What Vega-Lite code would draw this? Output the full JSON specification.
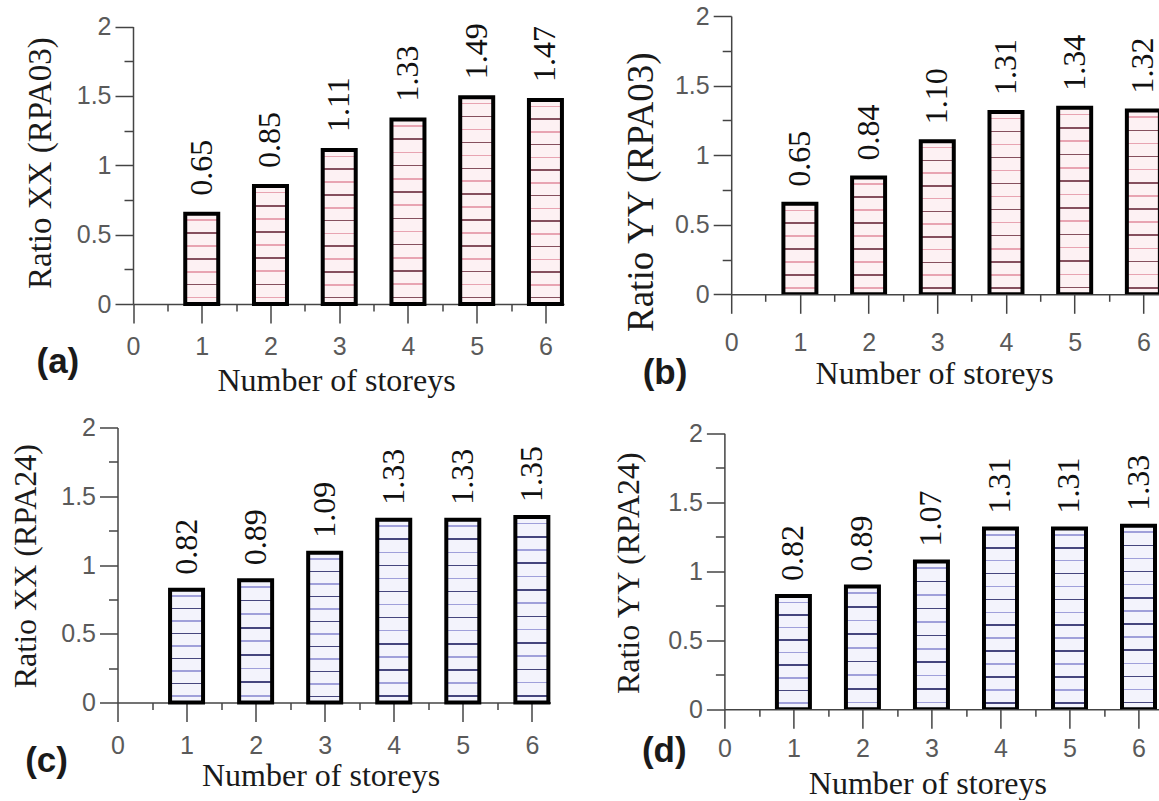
{
"$schema": "https://vega.github.io/schema/vega-lite/v6.json",
"background": "white",
"padding": {"left": 8.5, "top": 4, "right": 0, "bottom": 0},
"config": {
  "view": {"stroke": null},
  "axis": {"grid": false, "labelFont": "Liberation Sans", "labelFontSize": 25, "labelColor": "#5a5a5a", "labelFlush": false, "labelOverlap": false, "labelLimit": 2000, "labelBound": false, "domainColor": "#444444", "domainWidth": 1.5, "tickColor": "#444444", "tickWidth": 1.5, "titleFont": "Liberation Serif", "titleFontWeight": "normal", "titleColor": "#1a1a1a", "titleLimit": 2000},
  "title": {"font": "Liberation Sans", "fontSize": 35, "fontWeight": "bold", "color": "#1a1a1a", "orient": "bottom", "anchor": "start", "frame": "bounds", "offset": 0},
  "text": {"font": "Liberation Serif", "fontSize": 32, "color": "#111111"}
},
"data": {"values": [
  {"panel": "a", "storeys": 1, "ratio": 0.65},
  {"panel": "a", "storeys": 2, "ratio": 0.85},
  {"panel": "a", "storeys": 3, "ratio": 1.11},
  {"panel": "a", "storeys": 4, "ratio": 1.33},
  {"panel": "a", "storeys": 5, "ratio": 1.49},
  {"panel": "a", "storeys": 6, "ratio": 1.47},
  {"panel": "b", "storeys": 1, "ratio": 0.65},
  {"panel": "b", "storeys": 2, "ratio": 0.84},
  {"panel": "b", "storeys": 3, "ratio": 1.10},
  {"panel": "b", "storeys": 4, "ratio": 1.31},
  {"panel": "b", "storeys": 5, "ratio": 1.34},
  {"panel": "b", "storeys": 6, "ratio": 1.32},
  {"panel": "c", "storeys": 1, "ratio": 0.82},
  {"panel": "c", "storeys": 2, "ratio": 0.89},
  {"panel": "c", "storeys": 3, "ratio": 1.09},
  {"panel": "c", "storeys": 4, "ratio": 1.33},
  {"panel": "c", "storeys": 5, "ratio": 1.33},
  {"panel": "c", "storeys": 6, "ratio": 1.35},
  {"panel": "d", "storeys": 1, "ratio": 0.82},
  {"panel": "d", "storeys": 2, "ratio": 0.89},
  {"panel": "d", "storeys": 3, "ratio": 1.07},
  {"panel": "d", "storeys": 4, "ratio": 1.31},
  {"panel": "d", "storeys": 5, "ratio": 1.31},
  {"panel": "d", "storeys": 6, "ratio": 1.33}
]},
"spacing": 19.5,
"vconcat": [
{"spacing": 57.7, "hconcat": [
{
 "width": 446.5, "height": 288,
 "transform": [{"filter": "datum.panel === 'a'"}],
 "title": {"text": "(a)", "dx": 12.2, "dy": -54.8},
 "encoding": {
  "x": {"field": "storeys", "type": "quantitative", "scale": {"domain": [0, 6.27], "range": [15.5, 446.5], "nice": false, "padding": 0},
        "axis": {"title": "Number of storeys", "values": [0,0.5,1,1.5,2,2.5,3,3.5,4,4.5,5,5.5,6], "labelExpr": "datum.value % 1 === 0 ? format(datum.value, 'd') : ''", "tickSize": {"condition": {"test": "datum.value % 1 === 0", "value": 19}, "value": 7}, "labelPadding": 11.9, "titleX": 218.5, "titleY": 86, "titleAlign": "center", "titleBaseline": "alphabetic", "titleAngle": 0, "titleFontSize": 32}},
  "y": {"field": "ratio", "type": "quantitative", "stack": null, "scale": {"domain": [0, 2], "range": [288, 10.5], "nice": false},
        "axis": {"title": "Ratio XX (RPA03)", "offset": -15.5, "values": [0,0.25,0.5,0.75,1,1.25,1.5,1.75,2], "labelExpr": "datum.value % 0.5 === 0 ? format(datum.value, '~g') : ''", "tickSize": {"condition": {"test": "datum.value % 0.5 === 0", "value": 18}, "value": 9}, "labelPadding": 4, "titleX": -82.7, "titleY": 146.6, "titleAngle": 270, "titleAlign": "center", "titleBaseline": "alphabetic", "titleFontSize": 33}}
 },
 "layer": [
  {"mark": {"type": "bar", "orient": "vertical", "size": 33, "stroke": "#000000", "strokeWidth": 4},
   "encoding": {"fill": {"condition": [
    {"test": "datum.ratio < 0.75", "value": {"gradient": "linear", "x1": 0, "y1": 0, "x2": 0, "y2": 1, "stops": [{"offset":0,"color":"#fdf1f3"},{"offset":0.0628,"color":"#fdf1f3"},{"offset":0.0628,"color":"#e8a4b2"},{"offset":0.08,"color":"#e8a4b2"},{"offset":0.08,"color":"#fdf1f3"},{"offset":0.2057,"color":"#fdf1f3"},{"offset":0.2057,"color":"#86505e"},{"offset":0.2229,"color":"#86505e"},{"offset":0.2229,"color":"#fdf1f3"},{"offset":0.3485,"color":"#fdf1f3"},{"offset":0.3485,"color":"#e8a4b2"},{"offset":0.3657,"color":"#e8a4b2"},{"offset":0.3657,"color":"#fdf1f3"},{"offset":0.4914,"color":"#fdf1f3"},{"offset":0.4914,"color":"#86505e"},{"offset":0.5086,"color":"#86505e"},{"offset":0.5086,"color":"#fdf1f3"},{"offset":0.6343,"color":"#fdf1f3"},{"offset":0.6343,"color":"#e8a4b2"},{"offset":0.6515,"color":"#e8a4b2"},{"offset":0.6515,"color":"#fdf1f3"},{"offset":0.7771,"color":"#fdf1f3"},{"offset":0.7771,"color":"#86505e"},{"offset":0.7943,"color":"#86505e"},{"offset":0.7943,"color":"#fdf1f3"},{"offset":0.92,"color":"#fdf1f3"},{"offset":0.92,"color":"#e8a4b2"},{"offset":0.9372,"color":"#e8a4b2"},{"offset":0.9372,"color":"#fdf1f3"},{"offset":1,"color":"#fdf1f3"}]}},
    {"test": "datum.ratio < 1", "value": {"gradient": "linear", "x1": 0, "y1": 0, "x2": 0, "y2": 1, "stops": [{"offset":0,"color":"#fdf1f3"},{"offset":0.0489,"color":"#fdf1f3"},{"offset":0.0489,"color":"#e8a4b2"},{"offset":0.0623,"color":"#e8a4b2"},{"offset":0.0623,"color":"#fdf1f3"},{"offset":0.16,"color":"#fdf1f3"},{"offset":0.16,"color":"#86505e"},{"offset":0.1734,"color":"#86505e"},{"offset":0.1734,"color":"#fdf1f3"},{"offset":0.2711,"color":"#fdf1f3"},{"offset":0.2711,"color":"#e8a4b2"},{"offset":0.2845,"color":"#e8a4b2"},{"offset":0.2845,"color":"#fdf1f3"},{"offset":0.3822,"color":"#fdf1f3"},{"offset":0.3822,"color":"#86505e"},{"offset":0.3956,"color":"#86505e"},{"offset":0.3956,"color":"#fdf1f3"},{"offset":0.4933,"color":"#fdf1f3"},{"offset":0.4933,"color":"#e8a4b2"},{"offset":0.5067,"color":"#e8a4b2"},{"offset":0.5067,"color":"#fdf1f3"},{"offset":0.6044,"color":"#fdf1f3"},{"offset":0.6044,"color":"#86505e"},{"offset":0.6178,"color":"#86505e"},{"offset":0.6178,"color":"#fdf1f3"},{"offset":0.7155,"color":"#fdf1f3"},{"offset":0.7155,"color":"#e8a4b2"},{"offset":0.7289,"color":"#e8a4b2"},{"offset":0.7289,"color":"#fdf1f3"},{"offset":0.8266,"color":"#fdf1f3"},{"offset":0.8266,"color":"#86505e"},{"offset":0.84,"color":"#86505e"},{"offset":0.84,"color":"#fdf1f3"},{"offset":0.9377,"color":"#fdf1f3"},{"offset":0.9377,"color":"#e8a4b2"},{"offset":0.9511,"color":"#e8a4b2"},{"offset":0.9511,"color":"#fdf1f3"},{"offset":1,"color":"#fdf1f3"}]}},
    {"test": "datum.ratio < 1.2", "value": {"gradient": "linear", "x1": 0, "y1": 0, "x2": 0, "y2": 1, "stops": [{"offset":0,"color":"#fdf1f3"},{"offset":0.0367,"color":"#fdf1f3"},{"offset":0.0367,"color":"#e8a4b2"},{"offset":0.0467,"color":"#e8a4b2"},{"offset":0.0467,"color":"#fdf1f3"},{"offset":0.12,"color":"#fdf1f3"},{"offset":0.12,"color":"#86505e"},{"offset":0.13,"color":"#86505e"},{"offset":0.13,"color":"#fdf1f3"},{"offset":0.2033,"color":"#fdf1f3"},{"offset":0.2033,"color":"#e8a4b2"},{"offset":0.2133,"color":"#e8a4b2"},{"offset":0.2133,"color":"#fdf1f3"},{"offset":0.2867,"color":"#fdf1f3"},{"offset":0.2867,"color":"#86505e"},{"offset":0.2967,"color":"#86505e"},{"offset":0.2967,"color":"#fdf1f3"},{"offset":0.37,"color":"#fdf1f3"},{"offset":0.37,"color":"#e8a4b2"},{"offset":0.38,"color":"#e8a4b2"},{"offset":0.38,"color":"#fdf1f3"},{"offset":0.4533,"color":"#fdf1f3"},{"offset":0.4533,"color":"#86505e"},{"offset":0.4633,"color":"#86505e"},{"offset":0.4633,"color":"#fdf1f3"},{"offset":0.5367,"color":"#fdf1f3"},{"offset":0.5367,"color":"#e8a4b2"},{"offset":0.5467,"color":"#e8a4b2"},{"offset":0.5467,"color":"#fdf1f3"},{"offset":0.62,"color":"#fdf1f3"},{"offset":0.62,"color":"#86505e"},{"offset":0.63,"color":"#86505e"},{"offset":0.63,"color":"#fdf1f3"},{"offset":0.7033,"color":"#fdf1f3"},{"offset":0.7033,"color":"#e8a4b2"},{"offset":0.7133,"color":"#e8a4b2"},{"offset":0.7133,"color":"#fdf1f3"},{"offset":0.7867,"color":"#fdf1f3"},{"offset":0.7867,"color":"#86505e"},{"offset":0.7967,"color":"#86505e"},{"offset":0.7967,"color":"#fdf1f3"},{"offset":0.87,"color":"#fdf1f3"},{"offset":0.87,"color":"#e8a4b2"},{"offset":0.88,"color":"#e8a4b2"},{"offset":0.88,"color":"#fdf1f3"},{"offset":0.9533,"color":"#fdf1f3"},{"offset":0.9533,"color":"#86505e"},{"offset":0.9633,"color":"#86505e"},{"offset":0.9633,"color":"#fdf1f3"},{"offset":1,"color":"#fdf1f3"}]}},
    {"test": "datum.ratio < 1.4", "value": {"gradient": "linear", "x1": 0, "y1": 0, "x2": 0, "y2": 1, "stops": [{"offset":0,"color":"#fdf1f3"},{"offset":0.0314,"color":"#fdf1f3"},{"offset":0.0314,"color":"#e8a4b2"},{"offset":0.04,"color":"#e8a4b2"},{"offset":0.04,"color":"#fdf1f3"},{"offset":0.1028,"color":"#fdf1f3"},{"offset":0.1028,"color":"#86505e"},{"offset":0.1114,"color":"#86505e"},{"offset":0.1114,"color":"#fdf1f3"},{"offset":0.1743,"color":"#fdf1f3"},{"offset":0.1743,"color":"#e8a4b2"},{"offset":0.1829,"color":"#e8a4b2"},{"offset":0.1829,"color":"#fdf1f3"},{"offset":0.2457,"color":"#fdf1f3"},{"offset":0.2457,"color":"#86505e"},{"offset":0.2543,"color":"#86505e"},{"offset":0.2543,"color":"#fdf1f3"},{"offset":0.3171,"color":"#fdf1f3"},{"offset":0.3171,"color":"#e8a4b2"},{"offset":0.3257,"color":"#e8a4b2"},{"offset":0.3257,"color":"#fdf1f3"},{"offset":0.3886,"color":"#fdf1f3"},{"offset":0.3886,"color":"#86505e"},{"offset":0.3972,"color":"#86505e"},{"offset":0.3972,"color":"#fdf1f3"},{"offset":0.46,"color":"#fdf1f3"},{"offset":0.46,"color":"#e8a4b2"},{"offset":0.4686,"color":"#e8a4b2"},{"offset":0.4686,"color":"#fdf1f3"},{"offset":0.5314,"color":"#fdf1f3"},{"offset":0.5314,"color":"#86505e"},{"offset":0.54,"color":"#86505e"},{"offset":0.54,"color":"#fdf1f3"},{"offset":0.6028,"color":"#fdf1f3"},{"offset":0.6028,"color":"#e8a4b2"},{"offset":0.6114,"color":"#e8a4b2"},{"offset":0.6114,"color":"#fdf1f3"},{"offset":0.6743,"color":"#fdf1f3"},{"offset":0.6743,"color":"#86505e"},{"offset":0.6829,"color":"#86505e"},{"offset":0.6829,"color":"#fdf1f3"},{"offset":0.7457,"color":"#fdf1f3"},{"offset":0.7457,"color":"#e8a4b2"},{"offset":0.7543,"color":"#e8a4b2"},{"offset":0.7543,"color":"#fdf1f3"},{"offset":0.8171,"color":"#fdf1f3"},{"offset":0.8171,"color":"#86505e"},{"offset":0.8257,"color":"#86505e"},{"offset":0.8257,"color":"#fdf1f3"},{"offset":0.8886,"color":"#fdf1f3"},{"offset":0.8886,"color":"#e8a4b2"},{"offset":0.8972,"color":"#e8a4b2"},{"offset":0.8972,"color":"#fdf1f3"},{"offset":0.96,"color":"#fdf1f3"},{"offset":0.96,"color":"#86505e"},{"offset":0.9686,"color":"#86505e"},{"offset":0.9686,"color":"#fdf1f3"},{"offset":1,"color":"#fdf1f3"}]}}
   ],
   "value": {"gradient": "linear", "x1": 0, "y1": 0, "x2": 0, "y2": 1, "stops": [{"offset":0,"color":"#fdf1f3"},{"offset":0.0275,"color":"#fdf1f3"},{"offset":0.0275,"color":"#e8a4b2"},{"offset":0.035,"color":"#e8a4b2"},{"offset":0.035,"color":"#fdf1f3"},{"offset":0.09,"color":"#fdf1f3"},{"offset":0.09,"color":"#86505e"},{"offset":0.0975,"color":"#86505e"},{"offset":0.0975,"color":"#fdf1f3"},{"offset":0.1525,"color":"#fdf1f3"},{"offset":0.1525,"color":"#e8a4b2"},{"offset":0.16,"color":"#e8a4b2"},{"offset":0.16,"color":"#fdf1f3"},{"offset":0.215,"color":"#fdf1f3"},{"offset":0.215,"color":"#86505e"},{"offset":0.2225,"color":"#86505e"},{"offset":0.2225,"color":"#fdf1f3"},{"offset":0.2775,"color":"#fdf1f3"},{"offset":0.2775,"color":"#e8a4b2"},{"offset":0.285,"color":"#e8a4b2"},{"offset":0.285,"color":"#fdf1f3"},{"offset":0.34,"color":"#fdf1f3"},{"offset":0.34,"color":"#86505e"},{"offset":0.3475,"color":"#86505e"},{"offset":0.3475,"color":"#fdf1f3"},{"offset":0.4025,"color":"#fdf1f3"},{"offset":0.4025,"color":"#e8a4b2"},{"offset":0.41,"color":"#e8a4b2"},{"offset":0.41,"color":"#fdf1f3"},{"offset":0.465,"color":"#fdf1f3"},{"offset":0.465,"color":"#86505e"},{"offset":0.4725,"color":"#86505e"},{"offset":0.4725,"color":"#fdf1f3"},{"offset":0.5275,"color":"#fdf1f3"},{"offset":0.5275,"color":"#e8a4b2"},{"offset":0.535,"color":"#e8a4b2"},{"offset":0.535,"color":"#fdf1f3"},{"offset":0.59,"color":"#fdf1f3"},{"offset":0.59,"color":"#86505e"},{"offset":0.5975,"color":"#86505e"},{"offset":0.5975,"color":"#fdf1f3"},{"offset":0.6525,"color":"#fdf1f3"},{"offset":0.6525,"color":"#e8a4b2"},{"offset":0.66,"color":"#e8a4b2"},{"offset":0.66,"color":"#fdf1f3"},{"offset":0.715,"color":"#fdf1f3"},{"offset":0.715,"color":"#86505e"},{"offset":0.7225,"color":"#86505e"},{"offset":0.7225,"color":"#fdf1f3"},{"offset":0.7775,"color":"#fdf1f3"},{"offset":0.7775,"color":"#e8a4b2"},{"offset":0.785,"color":"#e8a4b2"},{"offset":0.785,"color":"#fdf1f3"},{"offset":0.84,"color":"#fdf1f3"},{"offset":0.84,"color":"#86505e"},{"offset":0.8475,"color":"#86505e"},{"offset":0.8475,"color":"#fdf1f3"},{"offset":0.9025,"color":"#fdf1f3"},{"offset":0.9025,"color":"#e8a4b2"},{"offset":0.91,"color":"#e8a4b2"},{"offset":0.91,"color":"#fdf1f3"},{"offset":0.965,"color":"#fdf1f3"},{"offset":0.965,"color":"#86505e"},{"offset":0.9725,"color":"#86505e"},{"offset":0.9725,"color":"#fdf1f3"},{"offset":1,"color":"#fdf1f3"}]}}}},
  {"mark": {"type": "text", "angle": 270, "align": "left", "baseline": "middle", "dx": 18},
   "encoding": {"text": {"field": "ratio", "type": "quantitative", "format": ".2f"}}}
 ]
},
{
 "width": 429, "height": 278.3,
 "transform": [{"filter": "datum.panel === 'b'"}],
 "title": {"text": "(b)", "dx": 19.8, "dy": -37.5},
 "encoding": {
  "x": {"field": "storeys", "type": "quantitative", "scale": {"domain": [0, 6.245], "nice": false, "padding": 0},
        "axis": {"title": "Number of storeys", "values": [0,0.5,1,1.5,2,2.5,3,3.5,4,4.5,5,5.5,6], "labelExpr": "datum.value % 1 === 0 ? format(datum.value, 'd') : ''", "tickSize": {"condition": {"test": "datum.value % 1 === 0", "value": 19}, "value": 7}, "labelPadding": 17.6, "titleX": 203, "titleY": 88.7, "titleAlign": "center", "titleBaseline": "alphabetic", "titleAngle": 0, "titleFontSize": 32}},
  "y": {"field": "ratio", "type": "quantitative", "stack": null, "scale": {"domain": [0, 2], "nice": false},
        "axis": {"title": "Ratio YY (RPA03)", "values": [0,0.25,0.5,0.75,1,1.25,1.5,1.75,2], "labelExpr": "datum.value % 0.5 === 0 ? format(datum.value, '~g') : ''", "tickSize": {"condition": {"test": "datum.value % 0.5 === 0", "value": 18}, "value": 9}, "labelPadding": 4, "titleX": -78.3, "titleY": 175.7, "titleAngle": 270, "titleAlign": "center", "titleBaseline": "alphabetic", "titleFontSize": 37}}
 },
 "layer": [
  {"mark": {"type": "bar", "orient": "vertical", "size": 33, "stroke": "#000000", "strokeWidth": 4, "clip": true},
   "encoding": {"fill": {"condition": [
    {"test": "datum.ratio < 0.75", "value": {"gradient": "linear", "x1": 0, "y1": 0, "x2": 0, "y2": 1, "stops": [{"offset":0,"color":"#fdf1f3"},{"offset":0.0628,"color":"#fdf1f3"},{"offset":0.0628,"color":"#e8a4b2"},{"offset":0.08,"color":"#e8a4b2"},{"offset":0.08,"color":"#fdf1f3"},{"offset":0.2057,"color":"#fdf1f3"},{"offset":0.2057,"color":"#86505e"},{"offset":0.2229,"color":"#86505e"},{"offset":0.2229,"color":"#fdf1f3"},{"offset":0.3485,"color":"#fdf1f3"},{"offset":0.3485,"color":"#e8a4b2"},{"offset":0.3657,"color":"#e8a4b2"},{"offset":0.3657,"color":"#fdf1f3"},{"offset":0.4914,"color":"#fdf1f3"},{"offset":0.4914,"color":"#86505e"},{"offset":0.5086,"color":"#86505e"},{"offset":0.5086,"color":"#fdf1f3"},{"offset":0.6343,"color":"#fdf1f3"},{"offset":0.6343,"color":"#e8a4b2"},{"offset":0.6515,"color":"#e8a4b2"},{"offset":0.6515,"color":"#fdf1f3"},{"offset":0.7771,"color":"#fdf1f3"},{"offset":0.7771,"color":"#86505e"},{"offset":0.7943,"color":"#86505e"},{"offset":0.7943,"color":"#fdf1f3"},{"offset":0.92,"color":"#fdf1f3"},{"offset":0.92,"color":"#e8a4b2"},{"offset":0.9372,"color":"#e8a4b2"},{"offset":0.9372,"color":"#fdf1f3"},{"offset":1,"color":"#fdf1f3"}]}},
    {"test": "datum.ratio < 1", "value": {"gradient": "linear", "x1": 0, "y1": 0, "x2": 0, "y2": 1, "stops": [{"offset":0,"color":"#fdf1f3"},{"offset":0.0489,"color":"#fdf1f3"},{"offset":0.0489,"color":"#e8a4b2"},{"offset":0.0623,"color":"#e8a4b2"},{"offset":0.0623,"color":"#fdf1f3"},{"offset":0.16,"color":"#fdf1f3"},{"offset":0.16,"color":"#86505e"},{"offset":0.1734,"color":"#86505e"},{"offset":0.1734,"color":"#fdf1f3"},{"offset":0.2711,"color":"#fdf1f3"},{"offset":0.2711,"color":"#e8a4b2"},{"offset":0.2845,"color":"#e8a4b2"},{"offset":0.2845,"color":"#fdf1f3"},{"offset":0.3822,"color":"#fdf1f3"},{"offset":0.3822,"color":"#86505e"},{"offset":0.3956,"color":"#86505e"},{"offset":0.3956,"color":"#fdf1f3"},{"offset":0.4933,"color":"#fdf1f3"},{"offset":0.4933,"color":"#e8a4b2"},{"offset":0.5067,"color":"#e8a4b2"},{"offset":0.5067,"color":"#fdf1f3"},{"offset":0.6044,"color":"#fdf1f3"},{"offset":0.6044,"color":"#86505e"},{"offset":0.6178,"color":"#86505e"},{"offset":0.6178,"color":"#fdf1f3"},{"offset":0.7155,"color":"#fdf1f3"},{"offset":0.7155,"color":"#e8a4b2"},{"offset":0.7289,"color":"#e8a4b2"},{"offset":0.7289,"color":"#fdf1f3"},{"offset":0.8266,"color":"#fdf1f3"},{"offset":0.8266,"color":"#86505e"},{"offset":0.84,"color":"#86505e"},{"offset":0.84,"color":"#fdf1f3"},{"offset":0.9377,"color":"#fdf1f3"},{"offset":0.9377,"color":"#e8a4b2"},{"offset":0.9511,"color":"#e8a4b2"},{"offset":0.9511,"color":"#fdf1f3"},{"offset":1,"color":"#fdf1f3"}]}},
    {"test": "datum.ratio < 1.2", "value": {"gradient": "linear", "x1": 0, "y1": 0, "x2": 0, "y2": 1, "stops": [{"offset":0,"color":"#fdf1f3"},{"offset":0.0367,"color":"#fdf1f3"},{"offset":0.0367,"color":"#e8a4b2"},{"offset":0.0467,"color":"#e8a4b2"},{"offset":0.0467,"color":"#fdf1f3"},{"offset":0.12,"color":"#fdf1f3"},{"offset":0.12,"color":"#86505e"},{"offset":0.13,"color":"#86505e"},{"offset":0.13,"color":"#fdf1f3"},{"offset":0.2033,"color":"#fdf1f3"},{"offset":0.2033,"color":"#e8a4b2"},{"offset":0.2133,"color":"#e8a4b2"},{"offset":0.2133,"color":"#fdf1f3"},{"offset":0.2867,"color":"#fdf1f3"},{"offset":0.2867,"color":"#86505e"},{"offset":0.2967,"color":"#86505e"},{"offset":0.2967,"color":"#fdf1f3"},{"offset":0.37,"color":"#fdf1f3"},{"offset":0.37,"color":"#e8a4b2"},{"offset":0.38,"color":"#e8a4b2"},{"offset":0.38,"color":"#fdf1f3"},{"offset":0.4533,"color":"#fdf1f3"},{"offset":0.4533,"color":"#86505e"},{"offset":0.4633,"color":"#86505e"},{"offset":0.4633,"color":"#fdf1f3"},{"offset":0.5367,"color":"#fdf1f3"},{"offset":0.5367,"color":"#e8a4b2"},{"offset":0.5467,"color":"#e8a4b2"},{"offset":0.5467,"color":"#fdf1f3"},{"offset":0.62,"color":"#fdf1f3"},{"offset":0.62,"color":"#86505e"},{"offset":0.63,"color":"#86505e"},{"offset":0.63,"color":"#fdf1f3"},{"offset":0.7033,"color":"#fdf1f3"},{"offset":0.7033,"color":"#e8a4b2"},{"offset":0.7133,"color":"#e8a4b2"},{"offset":0.7133,"color":"#fdf1f3"},{"offset":0.7867,"color":"#fdf1f3"},{"offset":0.7867,"color":"#86505e"},{"offset":0.7967,"color":"#86505e"},{"offset":0.7967,"color":"#fdf1f3"},{"offset":0.87,"color":"#fdf1f3"},{"offset":0.87,"color":"#e8a4b2"},{"offset":0.88,"color":"#e8a4b2"},{"offset":0.88,"color":"#fdf1f3"},{"offset":0.9533,"color":"#fdf1f3"},{"offset":0.9533,"color":"#86505e"},{"offset":0.9633,"color":"#86505e"},{"offset":0.9633,"color":"#fdf1f3"},{"offset":1,"color":"#fdf1f3"}]}}
   ],
   "value": {"gradient": "linear", "x1": 0, "y1": 0, "x2": 0, "y2": 1, "stops": [{"offset":0,"color":"#fdf1f3"},{"offset":0.0314,"color":"#fdf1f3"},{"offset":0.0314,"color":"#e8a4b2"},{"offset":0.04,"color":"#e8a4b2"},{"offset":0.04,"color":"#fdf1f3"},{"offset":0.1028,"color":"#fdf1f3"},{"offset":0.1028,"color":"#86505e"},{"offset":0.1114,"color":"#86505e"},{"offset":0.1114,"color":"#fdf1f3"},{"offset":0.1743,"color":"#fdf1f3"},{"offset":0.1743,"color":"#e8a4b2"},{"offset":0.1829,"color":"#e8a4b2"},{"offset":0.1829,"color":"#fdf1f3"},{"offset":0.2457,"color":"#fdf1f3"},{"offset":0.2457,"color":"#86505e"},{"offset":0.2543,"color":"#86505e"},{"offset":0.2543,"color":"#fdf1f3"},{"offset":0.3171,"color":"#fdf1f3"},{"offset":0.3171,"color":"#e8a4b2"},{"offset":0.3257,"color":"#e8a4b2"},{"offset":0.3257,"color":"#fdf1f3"},{"offset":0.3886,"color":"#fdf1f3"},{"offset":0.3886,"color":"#86505e"},{"offset":0.3972,"color":"#86505e"},{"offset":0.3972,"color":"#fdf1f3"},{"offset":0.46,"color":"#fdf1f3"},{"offset":0.46,"color":"#e8a4b2"},{"offset":0.4686,"color":"#e8a4b2"},{"offset":0.4686,"color":"#fdf1f3"},{"offset":0.5314,"color":"#fdf1f3"},{"offset":0.5314,"color":"#86505e"},{"offset":0.54,"color":"#86505e"},{"offset":0.54,"color":"#fdf1f3"},{"offset":0.6028,"color":"#fdf1f3"},{"offset":0.6028,"color":"#e8a4b2"},{"offset":0.6114,"color":"#e8a4b2"},{"offset":0.6114,"color":"#fdf1f3"},{"offset":0.6743,"color":"#fdf1f3"},{"offset":0.6743,"color":"#86505e"},{"offset":0.6829,"color":"#86505e"},{"offset":0.6829,"color":"#fdf1f3"},{"offset":0.7457,"color":"#fdf1f3"},{"offset":0.7457,"color":"#e8a4b2"},{"offset":0.7543,"color":"#e8a4b2"},{"offset":0.7543,"color":"#fdf1f3"},{"offset":0.8171,"color":"#fdf1f3"},{"offset":0.8171,"color":"#86505e"},{"offset":0.8257,"color":"#86505e"},{"offset":0.8257,"color":"#fdf1f3"},{"offset":0.8886,"color":"#fdf1f3"},{"offset":0.8886,"color":"#e8a4b2"},{"offset":0.8972,"color":"#e8a4b2"},{"offset":0.8972,"color":"#fdf1f3"},{"offset":0.96,"color":"#fdf1f3"},{"offset":0.96,"color":"#86505e"},{"offset":0.9686,"color":"#86505e"},{"offset":0.9686,"color":"#fdf1f3"},{"offset":1,"color":"#fdf1f3"}]}}}},
  {"mark": {"type": "text", "angle": 270, "align": "left", "baseline": "middle", "dx": 17},
   "encoding": {"text": {"field": "ratio", "type": "quantitative", "format": ".2f"}}}
 ]
}
]},
{"spacing": 61.9, "hconcat": [
{
 "width": 433, "height": 275,
 "transform": [{"filter": "datum.panel === 'c'"}],
 "title": {"text": "(c)", "dx": 16.2, "dy": -51.5},
 "encoding": {
  "x": {"field": "storeys", "type": "quantitative", "scale": {"domain": [0, 6.27], "nice": false, "padding": 0},
        "axis": {"title": "Number of storeys", "values": [0,0.5,1,1.5,2,2.5,3,3.5,4,4.5,5,5.5,6], "labelExpr": "datum.value % 1 === 0 ? format(datum.value, 'd') : ''", "tickSize": {"condition": {"test": "datum.value % 1 === 0", "value": 19}, "value": 7}, "labelPadding": 11.9, "titleX": 203, "titleY": 83.4, "titleAlign": "center", "titleBaseline": "alphabetic", "titleAngle": 0, "titleFontSize": 32}},
  "y": {"field": "ratio", "type": "quantitative", "stack": null, "scale": {"domain": [0, 2], "nice": false},
        "axis": {"title": "Ratio XX (RPA24)", "values": [0,0.25,0.5,0.75,1,1.25,1.5,1.75,2], "labelExpr": "datum.value % 0.5 === 0 ? format(datum.value, '~g') : ''", "tickSize": {"condition": {"test": "datum.value % 0.5 === 0", "value": 18}, "value": 9}, "labelPadding": 4, "titleX": -82.5, "titleY": 138.2, "titleAngle": 270, "titleAlign": "center", "titleBaseline": "alphabetic", "titleFontSize": 32}}
 },
 "layer": [
  {"mark": {"type": "bar", "orient": "vertical", "size": 33, "stroke": "#000000", "strokeWidth": 4},
   "encoding": {"fill": {"condition": [
    {"test": "datum.ratio < 1", "value": {"gradient": "linear", "x1": 0, "y1": 0, "x2": 0, "y2": 1, "stops": [{"offset":0,"color":"#f3f3fc"},{"offset":0.0489,"color":"#f3f3fc"},{"offset":0.0489,"color":"#a0a0da"},{"offset":0.0623,"color":"#a0a0da"},{"offset":0.0623,"color":"#f3f3fc"},{"offset":0.16,"color":"#f3f3fc"},{"offset":0.16,"color":"#46467e"},{"offset":0.1734,"color":"#46467e"},{"offset":0.1734,"color":"#f3f3fc"},{"offset":0.2711,"color":"#f3f3fc"},{"offset":0.2711,"color":"#a0a0da"},{"offset":0.2845,"color":"#a0a0da"},{"offset":0.2845,"color":"#f3f3fc"},{"offset":0.3822,"color":"#f3f3fc"},{"offset":0.3822,"color":"#46467e"},{"offset":0.3956,"color":"#46467e"},{"offset":0.3956,"color":"#f3f3fc"},{"offset":0.4933,"color":"#f3f3fc"},{"offset":0.4933,"color":"#a0a0da"},{"offset":0.5067,"color":"#a0a0da"},{"offset":0.5067,"color":"#f3f3fc"},{"offset":0.6044,"color":"#f3f3fc"},{"offset":0.6044,"color":"#46467e"},{"offset":0.6178,"color":"#46467e"},{"offset":0.6178,"color":"#f3f3fc"},{"offset":0.7155,"color":"#f3f3fc"},{"offset":0.7155,"color":"#a0a0da"},{"offset":0.7289,"color":"#a0a0da"},{"offset":0.7289,"color":"#f3f3fc"},{"offset":0.8266,"color":"#f3f3fc"},{"offset":0.8266,"color":"#46467e"},{"offset":0.84,"color":"#46467e"},{"offset":0.84,"color":"#f3f3fc"},{"offset":0.9377,"color":"#f3f3fc"},{"offset":0.9377,"color":"#a0a0da"},{"offset":0.9511,"color":"#a0a0da"},{"offset":0.9511,"color":"#f3f3fc"},{"offset":1,"color":"#f3f3fc"}]}},
    {"test": "datum.ratio < 1.2", "value": {"gradient": "linear", "x1": 0, "y1": 0, "x2": 0, "y2": 1, "stops": [{"offset":0,"color":"#f3f3fc"},{"offset":0.0367,"color":"#f3f3fc"},{"offset":0.0367,"color":"#a0a0da"},{"offset":0.0467,"color":"#a0a0da"},{"offset":0.0467,"color":"#f3f3fc"},{"offset":0.12,"color":"#f3f3fc"},{"offset":0.12,"color":"#46467e"},{"offset":0.13,"color":"#46467e"},{"offset":0.13,"color":"#f3f3fc"},{"offset":0.2033,"color":"#f3f3fc"},{"offset":0.2033,"color":"#a0a0da"},{"offset":0.2133,"color":"#a0a0da"},{"offset":0.2133,"color":"#f3f3fc"},{"offset":0.2867,"color":"#f3f3fc"},{"offset":0.2867,"color":"#46467e"},{"offset":0.2967,"color":"#46467e"},{"offset":0.2967,"color":"#f3f3fc"},{"offset":0.37,"color":"#f3f3fc"},{"offset":0.37,"color":"#a0a0da"},{"offset":0.38,"color":"#a0a0da"},{"offset":0.38,"color":"#f3f3fc"},{"offset":0.4533,"color":"#f3f3fc"},{"offset":0.4533,"color":"#46467e"},{"offset":0.4633,"color":"#46467e"},{"offset":0.4633,"color":"#f3f3fc"},{"offset":0.5367,"color":"#f3f3fc"},{"offset":0.5367,"color":"#a0a0da"},{"offset":0.5467,"color":"#a0a0da"},{"offset":0.5467,"color":"#f3f3fc"},{"offset":0.62,"color":"#f3f3fc"},{"offset":0.62,"color":"#46467e"},{"offset":0.63,"color":"#46467e"},{"offset":0.63,"color":"#f3f3fc"},{"offset":0.7033,"color":"#f3f3fc"},{"offset":0.7033,"color":"#a0a0da"},{"offset":0.7133,"color":"#a0a0da"},{"offset":0.7133,"color":"#f3f3fc"},{"offset":0.7867,"color":"#f3f3fc"},{"offset":0.7867,"color":"#46467e"},{"offset":0.7967,"color":"#46467e"},{"offset":0.7967,"color":"#f3f3fc"},{"offset":0.87,"color":"#f3f3fc"},{"offset":0.87,"color":"#a0a0da"},{"offset":0.88,"color":"#a0a0da"},{"offset":0.88,"color":"#f3f3fc"},{"offset":0.9533,"color":"#f3f3fc"},{"offset":0.9533,"color":"#46467e"},{"offset":0.9633,"color":"#46467e"},{"offset":0.9633,"color":"#f3f3fc"},{"offset":1,"color":"#f3f3fc"}]}}
   ],
   "value": {"gradient": "linear", "x1": 0, "y1": 0, "x2": 0, "y2": 1, "stops": [{"offset":0,"color":"#f3f3fc"},{"offset":0.0314,"color":"#f3f3fc"},{"offset":0.0314,"color":"#a0a0da"},{"offset":0.04,"color":"#a0a0da"},{"offset":0.04,"color":"#f3f3fc"},{"offset":0.1028,"color":"#f3f3fc"},{"offset":0.1028,"color":"#46467e"},{"offset":0.1114,"color":"#46467e"},{"offset":0.1114,"color":"#f3f3fc"},{"offset":0.1743,"color":"#f3f3fc"},{"offset":0.1743,"color":"#a0a0da"},{"offset":0.1829,"color":"#a0a0da"},{"offset":0.1829,"color":"#f3f3fc"},{"offset":0.2457,"color":"#f3f3fc"},{"offset":0.2457,"color":"#46467e"},{"offset":0.2543,"color":"#46467e"},{"offset":0.2543,"color":"#f3f3fc"},{"offset":0.3171,"color":"#f3f3fc"},{"offset":0.3171,"color":"#a0a0da"},{"offset":0.3257,"color":"#a0a0da"},{"offset":0.3257,"color":"#f3f3fc"},{"offset":0.3886,"color":"#f3f3fc"},{"offset":0.3886,"color":"#46467e"},{"offset":0.3972,"color":"#46467e"},{"offset":0.3972,"color":"#f3f3fc"},{"offset":0.46,"color":"#f3f3fc"},{"offset":0.46,"color":"#a0a0da"},{"offset":0.4686,"color":"#a0a0da"},{"offset":0.4686,"color":"#f3f3fc"},{"offset":0.5314,"color":"#f3f3fc"},{"offset":0.5314,"color":"#46467e"},{"offset":0.54,"color":"#46467e"},{"offset":0.54,"color":"#f3f3fc"},{"offset":0.6028,"color":"#f3f3fc"},{"offset":0.6028,"color":"#a0a0da"},{"offset":0.6114,"color":"#a0a0da"},{"offset":0.6114,"color":"#f3f3fc"},{"offset":0.6743,"color":"#f3f3fc"},{"offset":0.6743,"color":"#46467e"},{"offset":0.6829,"color":"#46467e"},{"offset":0.6829,"color":"#f3f3fc"},{"offset":0.7457,"color":"#f3f3fc"},{"offset":0.7457,"color":"#a0a0da"},{"offset":0.7543,"color":"#a0a0da"},{"offset":0.7543,"color":"#f3f3fc"},{"offset":0.8171,"color":"#f3f3fc"},{"offset":0.8171,"color":"#46467e"},{"offset":0.8257,"color":"#46467e"},{"offset":0.8257,"color":"#f3f3fc"},{"offset":0.8886,"color":"#f3f3fc"},{"offset":0.8886,"color":"#a0a0da"},{"offset":0.8972,"color":"#a0a0da"},{"offset":0.8972,"color":"#f3f3fc"},{"offset":0.96,"color":"#f3f3fc"},{"offset":0.96,"color":"#46467e"},{"offset":0.9686,"color":"#46467e"},{"offset":0.9686,"color":"#f3f3fc"},{"offset":1,"color":"#f3f3fc"}]}}}},
  {"mark": {"type": "text", "angle": 270, "align": "left", "baseline": "middle", "dx": 15},
   "encoding": {"text": {"field": "ratio", "type": "quantitative", "format": ".2f"}}}
 ]
},
{
 "width": 435.5, "height": 281.7,
 "transform": [{"filter": "datum.panel === 'd'"}],
 "title": {"text": "(d)", "dx": 29.1, "dy": -69.6},
 "encoding": {
  "x": {"field": "storeys", "type": "quantitative", "scale": {"domain": [0, 6.31], "nice": false, "padding": 0},
        "axis": {"title": "Number of storeys", "values": [0,0.5,1,1.5,2,2.5,3,3.5,4,4.5,5,5.5,6], "labelExpr": "datum.value % 1 === 0 ? format(datum.value, 'd') : ''", "tickSize": {"condition": {"test": "datum.value % 1 === 0", "value": 19}, "value": 7}, "labelPadding": 8.7, "titleX": 203, "titleY": 84, "titleAlign": "center", "titleBaseline": "alphabetic", "titleAngle": 0, "titleFontSize": 32}},
  "y": {"field": "ratio", "type": "quantitative", "stack": null, "scale": {"domain": [0, 2], "range": [281.7, 5.7], "nice": false},
        "axis": {"title": "Ratio YY (RPA24)", "values": [0,0.25,0.5,0.75,1,1.25,1.5,1.75,2], "labelExpr": "datum.value % 0.5 === 0 ? format(datum.value, '~g') : ''", "tickSize": {"condition": {"test": "datum.value % 0.5 === 0", "value": 18}, "value": 9}, "labelPadding": 4, "titleX": -85.6, "titleY": 145.2, "titleAngle": 270, "titleAlign": "center", "titleBaseline": "alphabetic", "titleFontSize": 32}}
 },
 "layer": [
  {"mark": {"type": "bar", "orient": "vertical", "size": 33, "stroke": "#000000", "strokeWidth": 4, "clip": true},
   "encoding": {"fill": {"condition": [
    {"test": "datum.ratio < 1", "value": {"gradient": "linear", "x1": 0, "y1": 0, "x2": 0, "y2": 1, "stops": [{"offset":0,"color":"#f3f3fc"},{"offset":0.0489,"color":"#f3f3fc"},{"offset":0.0489,"color":"#a0a0da"},{"offset":0.0623,"color":"#a0a0da"},{"offset":0.0623,"color":"#f3f3fc"},{"offset":0.16,"color":"#f3f3fc"},{"offset":0.16,"color":"#46467e"},{"offset":0.1734,"color":"#46467e"},{"offset":0.1734,"color":"#f3f3fc"},{"offset":0.2711,"color":"#f3f3fc"},{"offset":0.2711,"color":"#a0a0da"},{"offset":0.2845,"color":"#a0a0da"},{"offset":0.2845,"color":"#f3f3fc"},{"offset":0.3822,"color":"#f3f3fc"},{"offset":0.3822,"color":"#46467e"},{"offset":0.3956,"color":"#46467e"},{"offset":0.3956,"color":"#f3f3fc"},{"offset":0.4933,"color":"#f3f3fc"},{"offset":0.4933,"color":"#a0a0da"},{"offset":0.5067,"color":"#a0a0da"},{"offset":0.5067,"color":"#f3f3fc"},{"offset":0.6044,"color":"#f3f3fc"},{"offset":0.6044,"color":"#46467e"},{"offset":0.6178,"color":"#46467e"},{"offset":0.6178,"color":"#f3f3fc"},{"offset":0.7155,"color":"#f3f3fc"},{"offset":0.7155,"color":"#a0a0da"},{"offset":0.7289,"color":"#a0a0da"},{"offset":0.7289,"color":"#f3f3fc"},{"offset":0.8266,"color":"#f3f3fc"},{"offset":0.8266,"color":"#46467e"},{"offset":0.84,"color":"#46467e"},{"offset":0.84,"color":"#f3f3fc"},{"offset":0.9377,"color":"#f3f3fc"},{"offset":0.9377,"color":"#a0a0da"},{"offset":0.9511,"color":"#a0a0da"},{"offset":0.9511,"color":"#f3f3fc"},{"offset":1,"color":"#f3f3fc"}]}},
    {"test": "datum.ratio < 1.2", "value": {"gradient": "linear", "x1": 0, "y1": 0, "x2": 0, "y2": 1, "stops": [{"offset":0,"color":"#f3f3fc"},{"offset":0.04,"color":"#f3f3fc"},{"offset":0.04,"color":"#a0a0da"},{"offset":0.051,"color":"#a0a0da"},{"offset":0.051,"color":"#f3f3fc"},{"offset":0.1309,"color":"#f3f3fc"},{"offset":0.1309,"color":"#46467e"},{"offset":0.1419,"color":"#46467e"},{"offset":0.1419,"color":"#f3f3fc"},{"offset":0.2218,"color":"#f3f3fc"},{"offset":0.2218,"color":"#a0a0da"},{"offset":0.2328,"color":"#a0a0da"},{"offset":0.2328,"color":"#f3f3fc"},{"offset":0.3127,"color":"#f3f3fc"},{"offset":0.3127,"color":"#46467e"},{"offset":0.3237,"color":"#46467e"},{"offset":0.3237,"color":"#f3f3fc"},{"offset":0.4036,"color":"#f3f3fc"},{"offset":0.4036,"color":"#a0a0da"},{"offset":0.4146,"color":"#a0a0da"},{"offset":0.4146,"color":"#f3f3fc"},{"offset":0.4945,"color":"#f3f3fc"},{"offset":0.4945,"color":"#46467e"},{"offset":0.5055,"color":"#46467e"},{"offset":0.5055,"color":"#f3f3fc"},{"offset":0.5854,"color":"#f3f3fc"},{"offset":0.5854,"color":"#a0a0da"},{"offset":0.5964,"color":"#a0a0da"},{"offset":0.5964,"color":"#f3f3fc"},{"offset":0.6763,"color":"#f3f3fc"},{"offset":0.6763,"color":"#46467e"},{"offset":0.6873,"color":"#46467e"},{"offset":0.6873,"color":"#f3f3fc"},{"offset":0.7672,"color":"#f3f3fc"},{"offset":0.7672,"color":"#a0a0da"},{"offset":0.7782,"color":"#a0a0da"},{"offset":0.7782,"color":"#f3f3fc"},{"offset":0.8581,"color":"#f3f3fc"},{"offset":0.8581,"color":"#46467e"},{"offset":0.8691,"color":"#46467e"},{"offset":0.8691,"color":"#f3f3fc"},{"offset":0.949,"color":"#f3f3fc"},{"offset":0.949,"color":"#a0a0da"},{"offset":0.96,"color":"#a0a0da"},{"offset":0.96,"color":"#f3f3fc"},{"offset":1,"color":"#f3f3fc"}]}}
   ],
   "value": {"gradient": "linear", "x1": 0, "y1": 0, "x2": 0, "y2": 1, "stops": [{"offset":0,"color":"#f3f3fc"},{"offset":0.0314,"color":"#f3f3fc"},{"offset":0.0314,"color":"#a0a0da"},{"offset":0.04,"color":"#a0a0da"},{"offset":0.04,"color":"#f3f3fc"},{"offset":0.1028,"color":"#f3f3fc"},{"offset":0.1028,"color":"#46467e"},{"offset":0.1114,"color":"#46467e"},{"offset":0.1114,"color":"#f3f3fc"},{"offset":0.1743,"color":"#f3f3fc"},{"offset":0.1743,"color":"#a0a0da"},{"offset":0.1829,"color":"#a0a0da"},{"offset":0.1829,"color":"#f3f3fc"},{"offset":0.2457,"color":"#f3f3fc"},{"offset":0.2457,"color":"#46467e"},{"offset":0.2543,"color":"#46467e"},{"offset":0.2543,"color":"#f3f3fc"},{"offset":0.3171,"color":"#f3f3fc"},{"offset":0.3171,"color":"#a0a0da"},{"offset":0.3257,"color":"#a0a0da"},{"offset":0.3257,"color":"#f3f3fc"},{"offset":0.3886,"color":"#f3f3fc"},{"offset":0.3886,"color":"#46467e"},{"offset":0.3972,"color":"#46467e"},{"offset":0.3972,"color":"#f3f3fc"},{"offset":0.46,"color":"#f3f3fc"},{"offset":0.46,"color":"#a0a0da"},{"offset":0.4686,"color":"#a0a0da"},{"offset":0.4686,"color":"#f3f3fc"},{"offset":0.5314,"color":"#f3f3fc"},{"offset":0.5314,"color":"#46467e"},{"offset":0.54,"color":"#46467e"},{"offset":0.54,"color":"#f3f3fc"},{"offset":0.6028,"color":"#f3f3fc"},{"offset":0.6028,"color":"#a0a0da"},{"offset":0.6114,"color":"#a0a0da"},{"offset":0.6114,"color":"#f3f3fc"},{"offset":0.6743,"color":"#f3f3fc"},{"offset":0.6743,"color":"#46467e"},{"offset":0.6829,"color":"#46467e"},{"offset":0.6829,"color":"#f3f3fc"},{"offset":0.7457,"color":"#f3f3fc"},{"offset":0.7457,"color":"#a0a0da"},{"offset":0.7543,"color":"#a0a0da"},{"offset":0.7543,"color":"#f3f3fc"},{"offset":0.8171,"color":"#f3f3fc"},{"offset":0.8171,"color":"#46467e"},{"offset":0.8257,"color":"#46467e"},{"offset":0.8257,"color":"#f3f3fc"},{"offset":0.8886,"color":"#f3f3fc"},{"offset":0.8886,"color":"#a0a0da"},{"offset":0.8972,"color":"#a0a0da"},{"offset":0.8972,"color":"#f3f3fc"},{"offset":0.96,"color":"#f3f3fc"},{"offset":0.96,"color":"#46467e"},{"offset":0.9686,"color":"#46467e"},{"offset":0.9686,"color":"#f3f3fc"},{"offset":1,"color":"#f3f3fc"}]}}}},
  {"mark": {"type": "text", "angle": 270, "align": "left", "baseline": "middle", "dx": 15},
   "encoding": {"text": {"field": "ratio", "type": "quantitative", "format": ".2f"}}}
 ]
}
]}
]
}
